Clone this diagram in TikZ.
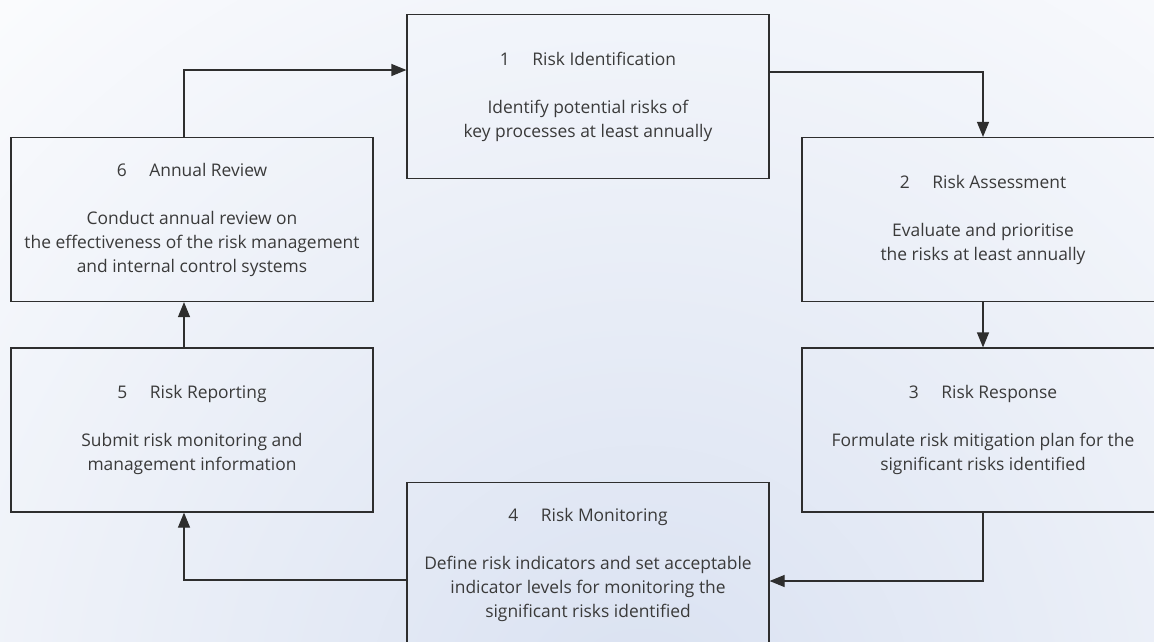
\documentclass[tikz,border=0pt]{standalone}
\usepackage{fontspec}
\setmainfont{Open Sans}
\usetikzlibrary{arrows.meta}
\definecolor{linec}{HTML}{2E2E2E}
\definecolor{textc}{HTML}{3A3A3A}
\definecolor{bgblue}{HTML}{D9E1F1}
\newcommand{\stagegap}{\hspace{1.3em}}
\begin{document}
\begin{tikzpicture}[x=1pt,y=-1pt,
  stagebox/.style={draw=linec, line width=1.2pt, minimum width=362pt, minimum height=164pt,
    inner sep=0pt, align=center, text=textc, font=\fontsize{17.4pt}{24pt}\selectfont},
  arr/.style={draw=linec, line width=1.2pt, -{Triangle[length=15pt,width=12pt]}}]
\useasboundingbox (0,0) rectangle (1154,641);
\clip (0,0) rectangle (1154,641);
\fill[white] (0,0) rectangle (1154,641);
\shade[inner color=bgblue, outer color=white] (640,720) circle (1100);
\node[stagebox] (b1) at (588,96.5) {1\stagegap Risk Identification\\[24pt]Identify potential risks of\\key processes at least annually};
\node[stagebox] (b2) at (983,219.5) {2\stagegap Risk Assessment\\[24pt]Evaluate and prioritise\\the risks at least annually};
\node[stagebox] (b3) at (983,430) {3\stagegap Risk Response\\[24pt]Formulate risk mitigation plan for the\\significant risks identified};
\node[stagebox] (b4) at (588,564.5) {4\stagegap Risk Monitoring\\[24pt]Define risk indicators and set acceptable\\indicator levels for monitoring the\\significant risks identified};
\node[stagebox] (b5) at (192,430) {5\stagegap Risk Reporting\\[24pt]Submit risk monitoring and\\management information};
\node[stagebox] (b6) at (192,219.5) {6\stagegap Annual Review\\[24pt]Conduct annual review on\\the effectiveness of the risk management\\and internal control systems};
\draw[arr] ([xshift=-8pt]b6.north) |- ([yshift=26.5pt]b1.west);
\draw[arr] ([yshift=24.5pt]b1.east) -| (b2.north);
\draw[arr] (b2.south) -- (b3.north);
\draw[arr] (b3.south) |- ([yshift=-16.5pt]b4.east);
\draw[arr] ([yshift=-15.5pt]b4.west) -| ([xshift=-8pt]b5.south);
\draw[arr] ([xshift=-8pt]b5.north) -- ([xshift=-8pt]b6.south);
\end{tikzpicture}
\end{document}
